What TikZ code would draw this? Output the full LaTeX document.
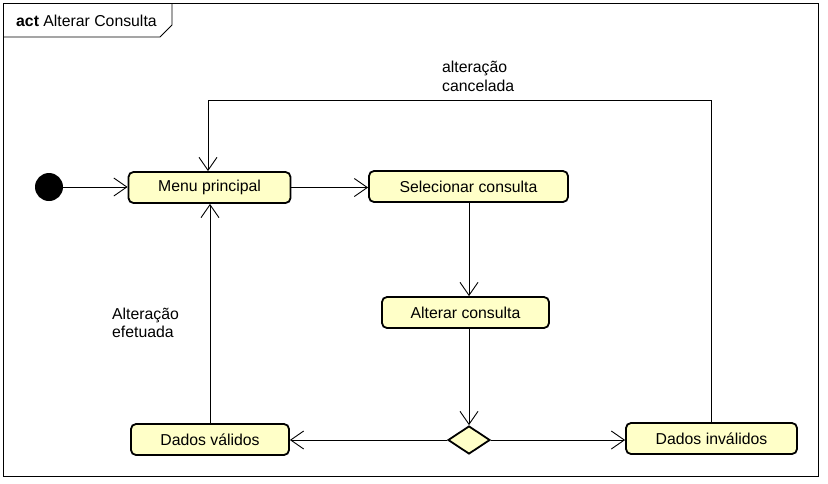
\documentclass[tikz,border=0pt]{standalone}
\usepackage{fontspec}
\setmainfont{Liberation Sans}
\usetikzlibrary{arrows.meta,shapes.geometric}
\definecolor{actfill}{HTML}{FFFFC8}
\begin{document}
\begin{tikzpicture}[x=1pt,y=-1pt,
  font=\fontsize{15.8}{18.5}\selectfont,
  action/.style={draw=black,line width=1.8pt,rounded corners=5pt,fill=actfill,minimum height=31pt,inner sep=0pt},
  decision/.style={draw=black,line width=1.8pt,diamond,fill=actfill,minimum width=42pt,minimum height=28pt,inner sep=0pt},
  flow/.style={draw=black,line width=0.9pt,-{Straight Barb[length=13pt,width=18pt,line width=0.9pt]}},
  lbl/.style={align=left,anchor=west,inner sep=0pt}]
\useasboundingbox (0,0) rectangle (828,483);
\fill[white] (0,0) rectangle (828,483);
% frame
\draw[line width=0.9pt] (3,3) rectangle (818,476);
\draw[line width=0.9pt] (3,37) -- (160,37) -- (172,25) -- (172,3);
\node[anchor=west,inner sep=0pt] (title) at (16,21) {\textbf{act} Alterar Consulta};
% nodes
\node[circle,fill=black,minimum size=28pt,inner sep=0pt] (start) at (49,187) {};
\node[action,minimum width=162pt] (menu) at (209.5,187.5) {Menu principal};
\node[action,minimum width=199pt] (sel) at (468.5,186.5) {Selecionar consulta};
\node[action,minimum width=167pt] (alt) at (465.5,312.5) {Alterar consulta};
\node[decision] (dia) at (469,440) {};
\node[action,minimum width=158pt] (val) at (210,439.5) {Dados válidos};
\node[action,minimum width=171pt] (inv) at (711.5,438.5) {Dados inválidos};
\coordinate (c1) at (711,100);
\coordinate (c2) at (208,100);
% edges
\draw[flow] (start) -- (menu.west |- start);
\draw[flow] (menu.east) -- (sel.west |- menu.east);
\draw[flow] (sel.south -| dia.north) -- (alt.north -| dia.north);
\draw[flow] (alt.south -| dia.north) -- (dia.north);
\draw[flow] (dia.west) -- (val.east |- dia.west);
\draw[flow] (dia.east) -- (inv.west |- dia.east);
\draw[flow] (val.north -| 210,0) -- (menu.south -| 210,0);
\draw[flow] (inv.north -| c1) -- (c1) -- (c2) -- (menu.north -| c2);
% labels
\node[lbl] (l1) at (442,76.5) {alteração\\[0pt]cancelada};
\node[lbl] (l2) at (112,323) {Alteração\\[0pt]efetuada};
\end{tikzpicture}
\end{document}
